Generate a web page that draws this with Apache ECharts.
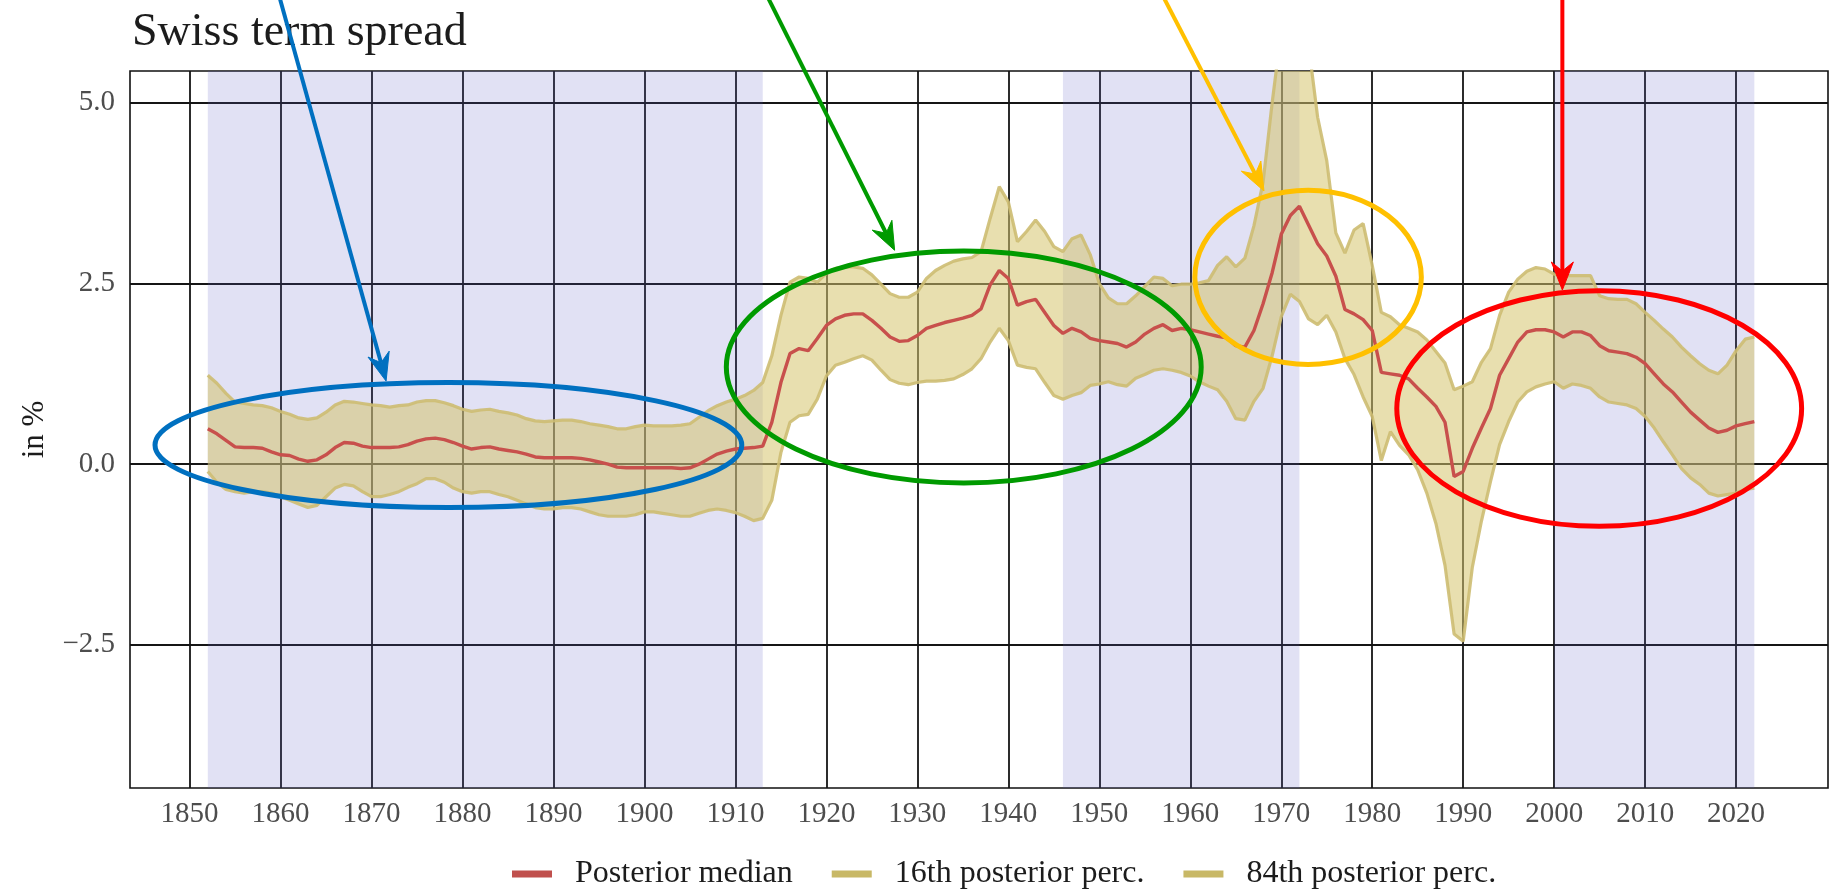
<!DOCTYPE html>
<html>
<head>
<meta charset="utf-8">
<script src="https://cdn.jsdelivr.net/npm/echarts@6/dist/echarts.min.js"></script>
<style>
  html, body { margin: 0; padding: 0; background: #ffffff; }
  #chart { width: 1834px; height: 889px; }
</style>
</head>
<body>
<div id="chart"></div>
<script>
// Annual observations, 1852-2022
const firstYear = 1852;
const lastYear = 2022;

// Posterior median of the Swiss term spread (in %)
const median = [
  0.49, 0.42, 0.33, 0.24, 0.23, 0.23, 0.22, 0.17,
  0.13, 0.12, 0.07, 0.04, 0.06, 0.13, 0.23, 0.30, 0.29, 0.25,
  0.23, 0.23, 0.23, 0.24, 0.27, 0.32, 0.35, 0.36, 0.34, 0.30,
  0.25, 0.21, 0.23, 0.24, 0.21, 0.19, 0.17, 0.14, 0.10, 0.09,
  0.09, 0.09, 0.09, 0.08, 0.06, 0.03, 0.00, -0.04, -0.05, -0.05,
  -0.05, -0.05, -0.05, -0.05, -0.06, -0.05, 0.00, 0.07, 0.14, 0.18,
  0.21, 0.22, 0.23, 0.25, 0.58, 1.13, 1.53, 1.60, 1.57, 1.74,
  1.92, 2.01, 2.06, 2.08, 2.08, 1.99, 1.88, 1.76, 1.70, 1.71,
  1.78, 1.88, 1.92, 1.96, 1.99, 2.02, 2.06, 2.15, 2.48, 2.68,
  2.57, 2.20, 2.25, 2.28, 2.10, 1.92, 1.81, 1.88, 1.83, 1.74,
  1.71, 1.69, 1.67, 1.62, 1.69, 1.80, 1.88, 1.93, 1.85, 1.88,
  1.86, 1.83, 1.80, 1.77, 1.75, 1.64, 1.62, 1.85, 2.22, 2.65,
  3.18, 3.44, 3.57, 3.31, 3.05, 2.88, 2.60, 2.14, 2.08, 2.00,
  1.85, 1.27, 1.25, 1.23, 1.18, 1.05, 0.93, 0.80, 0.58, -0.17,
  -0.10, 0.22, 0.50, 0.77, 1.23, 1.46, 1.69, 1.83, 1.86, 1.86,
  1.83, 1.76, 1.83, 1.83, 1.78, 1.64, 1.57, 1.55, 1.53, 1.48,
  1.39, 1.25, 1.11, 1.00, 0.86, 0.72, 0.61, 0.50, 0.44, 0.47,
  0.53, 0.56, 0.59
];

// 16th posterior percentile
const p16 = [
  -0.10, -0.25, -0.35, -0.38, -0.40, -0.38, -0.38, -0.40,
  -0.45, -0.50, -0.55, -0.60, -0.57, -0.45, -0.33, -0.28, -0.30, -0.38,
  -0.45, -0.45, -0.42, -0.38, -0.32, -0.27, -0.20, -0.20, -0.25, -0.33,
  -0.38, -0.40, -0.38, -0.38, -0.42, -0.45, -0.50, -0.55, -0.60, -0.62,
  -0.62, -0.60, -0.60, -0.62, -0.66, -0.70, -0.72, -0.72, -0.72, -0.70,
  -0.66, -0.66, -0.68, -0.70, -0.72, -0.72, -0.68, -0.64, -0.62, -0.64,
  -0.67, -0.72, -0.78, -0.75, -0.50, 0.16, 0.58, 0.67, 0.69, 0.90,
  1.22, 1.37, 1.41, 1.46, 1.50, 1.44, 1.30, 1.17, 1.12, 1.10,
  1.13, 1.15, 1.15, 1.16, 1.18, 1.24, 1.32, 1.46, 1.69, 1.88,
  1.71, 1.37, 1.34, 1.32, 1.13, 0.95, 0.90, 0.95, 0.99, 1.09,
  1.11, 1.14, 1.10, 1.08, 1.19, 1.24, 1.30, 1.32, 1.30, 1.27,
  1.22, 1.14, 1.08, 1.03, 0.87, 0.63, 0.61, 0.87, 1.05, 1.50,
  2.04, 2.35, 2.25, 2.01, 1.93, 2.06, 1.83, 1.46, 1.24, 0.93,
  0.66, 0.05, 0.45, 0.26, 0.13, -0.08, -0.40, -0.82, -1.40, -2.35,
  -2.45, -1.43, -0.79, -0.24, 0.27, 0.59, 0.86, 1.00, 1.07, 1.11,
  1.14, 1.05, 1.11, 1.09, 1.05, 0.93, 0.86, 0.84, 0.82, 0.77,
  0.66, 0.50, 0.31, 0.13, -0.06, -0.19, -0.28, -0.40, -0.44, -0.42,
  -0.40, -0.35, -0.33
];

// 84th posterior percentile
const p84 = [
  1.23, 1.12, 0.98, 0.86, 0.84, 0.82, 0.81, 0.78,
  0.73, 0.69, 0.64, 0.62, 0.64, 0.72, 0.82, 0.87, 0.86, 0.84,
  0.82, 0.81, 0.79, 0.81, 0.82, 0.86, 0.88, 0.88, 0.85, 0.81,
  0.76, 0.73, 0.75, 0.76, 0.73, 0.71, 0.68, 0.63, 0.60, 0.59,
  0.60, 0.61, 0.61, 0.59, 0.56, 0.54, 0.52, 0.49, 0.49, 0.52,
  0.54, 0.53, 0.53, 0.53, 0.54, 0.56, 0.65, 0.74, 0.81, 0.86,
  0.90, 0.95, 1.02, 1.13, 1.50, 2.06, 2.52, 2.59, 2.57, 2.52,
  2.64, 2.71, 2.73, 2.73, 2.71, 2.62, 2.49, 2.36, 2.31, 2.31,
  2.38, 2.57, 2.68, 2.75, 2.81, 2.84, 2.86, 2.94, 3.40, 3.84,
  3.63, 3.08, 3.22, 3.38, 3.22, 3.01, 2.94, 3.12, 3.17, 2.90,
  2.50, 2.30, 2.22, 2.22, 2.33, 2.46, 2.59, 2.57, 2.47, 2.49,
  2.49, 2.51, 2.54, 2.75, 2.87, 2.73, 2.85, 3.30, 3.90, 5.00,
  6.00, 6.50, 6.40, 5.80, 4.80, 4.20, 3.20, 2.92, 3.24, 3.33,
  2.75, 2.10, 2.04, 1.93, 1.88, 1.83, 1.72, 1.56, 1.40, 1.03,
  1.08, 1.14, 1.41, 1.60, 2.06, 2.38, 2.56, 2.67, 2.72, 2.70,
  2.63, 2.61, 2.61, 2.61, 2.61, 2.33, 2.29, 2.28, 2.28, 2.22,
  2.10, 1.99, 1.87, 1.76, 1.62, 1.50, 1.39, 1.30, 1.25, 1.37,
  1.57, 1.73, 1.76
];

// Shaded periods (start year, end year)
const shadedPeriods = [[1852, 1913], [1946, 1972], [2000, 2022]];

// Axis ticks
const xTicks = [1850, 1860, 1870, 1880, 1890, 1900, 1910, 1920, 1930, 1940,
                1950, 1960, 1970, 1980, 1990, 2000, 2010, 2020];
const yTicks = [-2.5, 0, 2.5, 5];

// Highlight ellipses (data-space extents) and pointer arrows (data-space from/to)
const highlightEllipses = [
  { color: '#0070c0', x: [1846.2, 1910.7], y: [-0.60, 1.13] },
  { color: '#009a00', x: [1909.0, 1961.2], y: [-0.26, 2.95] },
  { color: '#ffc000', x: [1960.5, 1985.4], y: [1.38, 3.79] },
  { color: '#ff0000', x: [1982.7, 2027.2], y: [-0.86, 2.40] }
];
const pointerArrows = [
  { color: '#0070c0', from: [1859.8, 6.5], to: [1871.6, 1.15] },
  { color: '#009a00', from: [1913.4, 6.5], to: [1927.5, 2.96] },
  { color: '#ffc000', from: [1956.9, 6.5], to: [1968.1, 3.78] },
  { color: '#ff0000', from: [2000.9, 6.5], to: [2000.9, 2.41] }
];

const years = [];
for (let y = firstYear; y <= lastYear; y++) years.push(y);

const pairs = (vals) => years.map((yr, i) => [yr, vals[i]]);

const serif = 'Liberation Serif';
const bandLine = '#cdbd72';
const medianRed = '#c8504c';

// Credible band between the 16th and 84th percentiles, drawn as one polygon
function renderBand(params, api) {
  if (params.dataIndex !== 0) return null;
  const pts = [];
  for (let i = 0; i < years.length; i++) pts.push(api.coord([years[i], p84[i]]));
  for (let i = years.length - 1; i >= 0; i--) pts.push(api.coord([years[i], p16[i]]));
  const cs = params.coordSys;
  return {
    type: 'polygon',
    shape: { points: pts },
    style: { fill: 'rgba(214, 196, 110, 0.55)', stroke: 'none' },
    clipPath: { type: 'rect', shape: { x: cs.x, y: cs.y, width: cs.width, height: cs.height } },
    silent: true
  };
}

const chart = echarts.init(document.getElementById('chart'), null, { renderer: 'canvas' });

const option = {
  backgroundColor: '#ffffff',
  animation: false,
  title: {
    text: 'Swiss term spread',
    left: 127,
    top: 5,
    textStyle: { fontFamily: serif, fontSize: 46, fontWeight: 'normal', color: '#1c1c1c' }
  },
  legend: {
    data: ['Posterior median', '16th posterior perc.', '84th posterior perc.'],
    left: 507,
    top: 853,
    icon: 'rect',
    itemWidth: 40,
    itemHeight: 7,
    itemGap: 39,
    textStyle: { fontFamily: serif, fontSize: 32, color: '#1c1c1c', padding: [0, 0, 0, 18] }
  },
  grid: {
    left: 130, right: 6, top: 71, bottom: 101,
    show: true, borderColor: '#111111', borderWidth: 1.6, backgroundColor: 'transparent'
  },
  xAxis: {
    type: 'value',
    min: 1843.45,
    max: 2030.1,
    axisLine: { show: false },
    axisTick: { show: false, customValues: xTicks },
    axisLabel: {
      customValues: xTicks,
      formatter: (v) => String(v),
      fontFamily: serif, fontSize: 29, color: '#4d4d4d', margin: 12
    },
    splitLine: { show: true, lineStyle: { color: '#151515', width: 1.8 } }
  },
  yAxis: {
    type: 'value',
    min: -4.48,
    max: 5.44,
    name: 'in %',
    nameLocation: 'middle',
    nameGap: 80,
    nameTextStyle: { fontFamily: serif, fontSize: 31, color: '#1c1c1c' },
    axisLine: { show: false },
    axisTick: { show: false, customValues: yTicks },
    axisLabel: {
      customValues: yTicks,
      formatter: (v) => v.toFixed(1).replace('-', '\u2212'),
      fontFamily: serif, fontSize: 29, color: '#4d4d4d', margin: 15
    },
    splitLine: { show: true, lineStyle: { color: '#151515', width: 1.8 } }
  },
  series: [
    {
      name: 'band',
      type: 'custom',
      renderItem: renderBand,
      data: [[firstYear, median[0]]],
      silent: true,
      z: 2,
      markArea: {
        silent: true,
        itemStyle: { color: 'rgba(95, 95, 195, 0.19)' },
        data: shadedPeriods.map(([a, b]) => [{ xAxis: a }, { xAxis: b }])
      }
    },
    {
      name: '16th posterior perc.',
      type: 'line',
      data: pairs(p16),
      symbol: 'none',
      itemStyle: { color: '#c8b866' },
      lineStyle: { color: bandLine, width: 3.2, opacity: 0.9 },
      z: 3
    },
    {
      name: '84th posterior perc.',
      type: 'line',
      data: pairs(p84),
      symbol: 'none',
      itemStyle: { color: '#c8b866' },
      lineStyle: { color: bandLine, width: 3.2, opacity: 0.9 },
      z: 3
    },
    {
      name: 'Posterior median',
      type: 'line',
      data: pairs(median),
      symbol: 'none',
      itemStyle: { color: '#c0504d' },
      lineStyle: { color: medianRed, width: 3.4 },
      z: 4
    }
  ]
};

chart.setOption(option);

// Overlay: highlight ellipses and arrows, positioned through the grid's data scale
const toPx = (p) => chart.convertToPixel({ gridIndex: 0 }, p);
const overlay = [];
highlightEllipses.forEach((e) => {
  const a = toPx([e.x[0], e.y[1]]);
  const b = toPx([e.x[1], e.y[0]]);
  overlay.push({
    type: 'ellipse',
    silent: true,
    z: 100,
    shape: { cx: (a[0] + b[0]) / 2, cy: (a[1] + b[1]) / 2, rx: (b[0] - a[0]) / 2, ry: (b[1] - a[1]) / 2 },
    style: { fill: 'none', stroke: e.color, lineWidth: 5 }
  });
});
pointerArrows.forEach((ar) => {
  const s = toPx(ar.from);
  const t = toPx(ar.to);
  const dx = t[0] - s[0], dy = t[1] - s[1];
  const len = Math.hypot(dx, dy);
  const ux = dx / len, uy = dy / len;
  const nx = -uy, ny = ux;
  const headLen = 28, halfW = 11, notch = 9;
  const bx = t[0] - ux * headLen, by = t[1] - uy * headLen;
  const mx = t[0] - ux * (headLen - notch), my = t[1] - uy * (headLen - notch);
  overlay.push({
    type: 'line', silent: true, z: 100,
    shape: { x1: s[0], y1: s[1], x2: mx, y2: my },
    style: { stroke: ar.color, lineWidth: 4 }
  });
  overlay.push({
    type: 'polygon', silent: true, z: 101,
    shape: { points: [[t[0], t[1]], [bx + nx * halfW, by + ny * halfW], [mx, my], [bx - nx * halfW, by - ny * halfW]] },
    style: { fill: ar.color, stroke: ar.color, lineWidth: 1 }
  });
});
chart.setOption({ graphic: overlay });
</script>
</body>
</html>
